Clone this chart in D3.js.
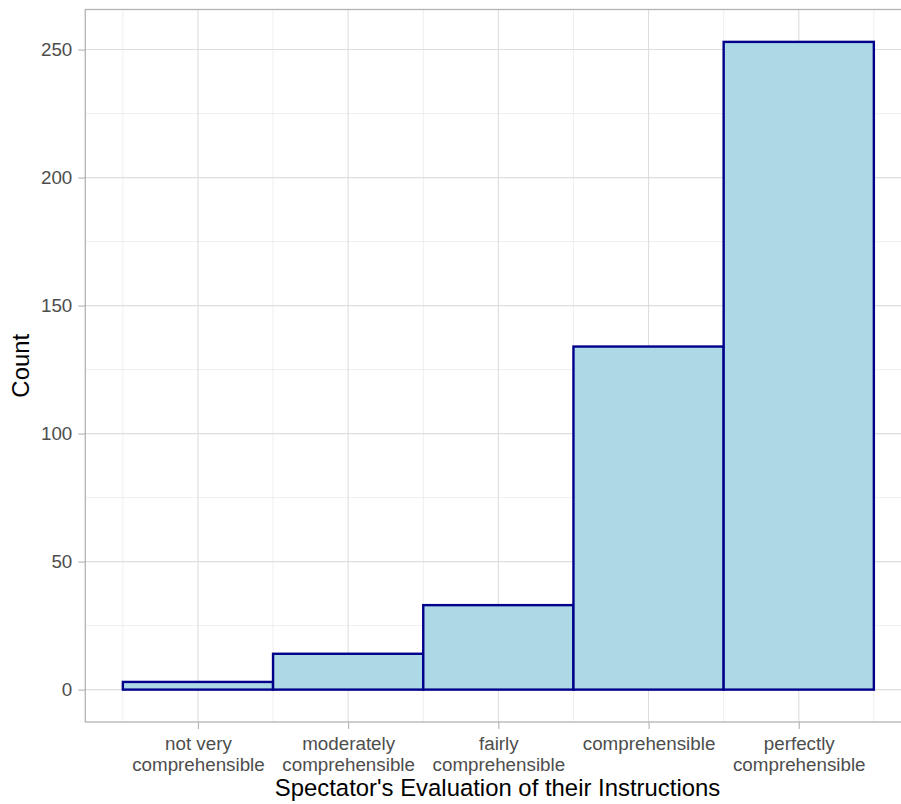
<!DOCTYPE html>
<html><head><meta charset="utf-8">
<script src="https://cdn.jsdelivr.net/npm/d3@7"></script>
<style>body{margin:0;background:#fff}svg{display:block}text{font-family:"Liberation Sans",Arial,sans-serif}</style>
</head><body>
<svg id="c" width="901" height="804"></svg>
<script>
const categories = ["not very\ncomprehensible","moderately\ncomprehensible","fairly\ncomprehensible","comprehensible","perfectly\ncomprehensible"];
const counts = [3, 14, 33, 134, 253];
const yTicks = [0, 50, 100, 150, 200, 250];
const yMinor = [25, 75, 125, 175, 225];

const svg = d3.select("#c");
const panel = {left: 85.3, top: 9.5, right: 911.4, bottom: 722};
const x = d3.scaleLinear().domain([0.25, 5.75]).range([panel.left, panel.right]);
const y = d3.scaleLinear().domain([-12.65, 265.65]).range([panel.bottom, panel.top]);
const tickFont = "18.8px", titleFont = "23.9px";

const g = svg.append("g");
// minor grid
const xMinor = d3.range(0, categories.length + 1).map(i => i + 0.5);
g.selectAll(".ym").data(yMinor).join("line").attr("x1", panel.left).attr("x2", panel.right)
  .attr("y1", d => y(d)).attr("y2", d => y(d)).attr("stroke", "#ebebeb").attr("stroke-width", 0.8);
g.selectAll(".xm").data(xMinor).join("line").attr("y1", panel.top).attr("y2", panel.bottom)
  .attr("x1", d => x(d)).attr("x2", d => x(d)).attr("stroke", "#ebebeb").attr("stroke-width", 0.8);
// major grid
g.selectAll(".yM").data(yTicks).join("line").attr("x1", panel.left).attr("x2", panel.right)
  .attr("y1", d => y(d)).attr("y2", d => y(d)).attr("stroke", "#dedede").attr("stroke-width", 1.1);
g.selectAll(".xM").data(categories.map((c, i) => i + 1)).join("line").attr("y1", panel.top).attr("y2", panel.bottom)
  .attr("x1", d => x(d)).attr("x2", d => x(d)).attr("stroke", "#dedede").attr("stroke-width", 1.1);

// bars
g.selectAll(".bar").data(counts).join("rect")
  .attr("x", (d, i) => x(i + 0.5)).attr("width", (d, i) => x(i + 1.5) - x(i + 0.5))
  .attr("y", d => y(d)).attr("height", d => y(0) - y(d))
  .attr("fill", "#ADD8E6").attr("stroke", "#00008B").attr("stroke-width", 2.4);

// panel border
svg.append("rect").attr("x", panel.left).attr("y", panel.top)
  .attr("width", panel.right - panel.left).attr("height", panel.bottom - panel.top)
  .attr("fill", "none").attr("stroke", "#b3b3b3").attr("stroke-width", 1.3);

// y axis
const yAxis = svg.append("g").attr("transform", `translate(${panel.left},0)`)
  .call(d3.axisLeft(y).tickValues(yTicks).tickSize(7).tickPadding(6));
yAxis.select(".domain").remove();
yAxis.selectAll("line").attr("stroke", "#b3b3b3").attr("stroke-width", 1.1);
yAxis.selectAll("text").attr("fill", "#4d4d4d").style("font-size", tickFont).attr("font-family", "Liberation Sans, Arial, sans-serif");

// x axis
const xAxis = svg.append("g").attr("transform", `translate(0,${panel.bottom})`)
  .call(d3.axisBottom(x).tickValues(categories.map((c, i) => i + 1)).tickSize(7).tickFormat(""));
xAxis.select(".domain").remove();
xAxis.selectAll("line").attr("stroke", "#b3b3b3").attr("stroke-width", 1.1);
xAxis.selectAll(".tick").each(function(d) {
  const lines = categories[d - 1].split("\n");
  const t = d3.select(this).append("text").attr("fill", "#4d4d4d").attr("text-anchor", "middle")
    .style("font-size", tickFont).attr("font-family", "Liberation Sans, Arial, sans-serif");
  lines.forEach((l, k) => t.append("tspan").attr("x", 0).attr("y", 28 + k * 21).text(l));
});

// titles
svg.append("text").attr("x", 497.5).attr("y", 796).attr("text-anchor", "middle")
  .style("font-size", titleFont).attr("fill", "#000").text("Spectator's Evaluation of their Instructions");
svg.append("text").attr("transform", `translate(29,${(panel.top + panel.bottom) / 2}) rotate(-90)`)
  .attr("text-anchor", "middle").style("font-size", titleFont).attr("fill", "#000").text("Count");
</script>
</body></html>
